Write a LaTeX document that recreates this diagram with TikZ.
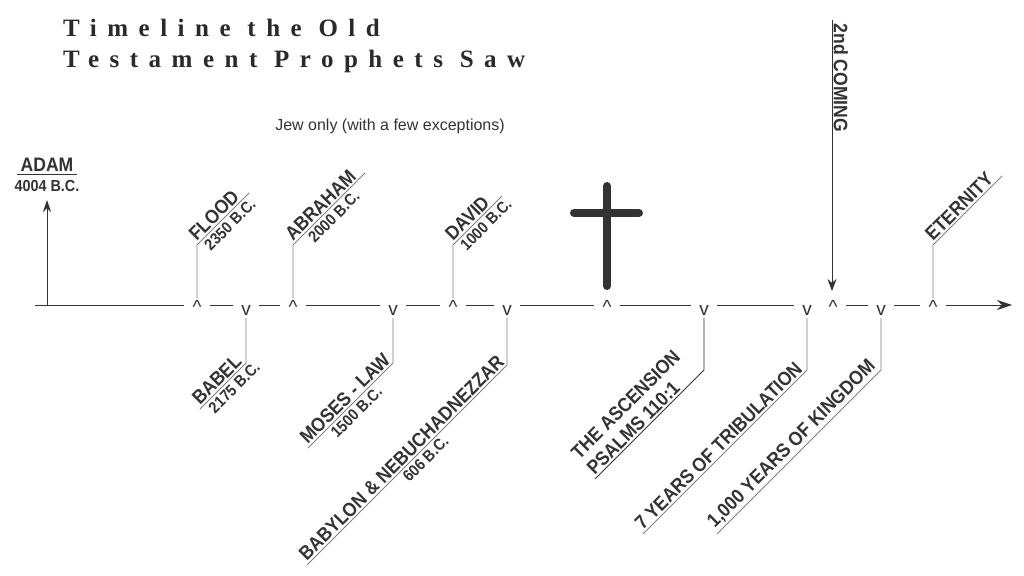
\documentclass[tikz,border=0pt]{standalone}
\usepackage{fontspec}
\setmainfont{Liberation Sans}
\newfontfamily\titlefont[LetterSpace=42]{Liberation Serif}
\newfontfamily\narrowfont[FakeStretch=0.9]{Liberation Sans}
\usetikzlibrary{arrows.meta}
\definecolor{ink}{HTML}{333333}
\definecolor{titleink}{HTML}{2A2A2A}
\begin{document}
\begin{tikzpicture}[x=1pt,y=-1pt,
  lbl/.style={font=\narrowfont\bfseries\fontsize{19.5}{22}\selectfont, text=ink, inner sep=2pt},
  dt/.style={font=\narrowfont\bfseries\fontsize{16}{18}\selectfont, text=ink, inner sep=3pt},
  mkup/.style={font=\fontsize{19}{20}\selectfont, fill=white, inner sep=0pt, minimum width=26pt, text height=15pt, text depth=1pt, anchor=base, text=ink},
  mkdn/.style={font=\fontsize{19}{20}\selectfont, fill=white, inner sep=0pt, minimum width=26pt, text height=12pt, text depth=3pt, anchor=base, text=ink},
  leader/.style={draw=black!50, line width=0.8pt},
  darkleader/.style={draw=ink, line width=0.9pt},
  axis/.style={draw=ink, line width=1pt},
  crossbar/.style={draw=ink, line width=8pt, line cap=round},
]
\fill[white] (0,0) rectangle (1024,575);
\useasboundingbox (0,0) rectangle (1024,575);

% title
\node[font=\titlefont\bfseries\fontsize{25}{27}\selectfont, text=titleink, anchor=base west, inner sep=0pt] (title1) at (63,37) {Timeline the Old};
\node[font=\titlefont\bfseries\fontsize{25}{27}\selectfont, text=titleink, anchor=base west, inner sep=0pt] (title2) at (63,68) {Testament Prophets Saw};

\node[font=\fontsize{16}{18}\selectfont, text=ink, anchor=base] (jew) at (390,130) {Jew only (with a few exceptions)};

% timeline
\coordinate (t0) at (35,305);
\coordinate (t1) at (1012,305);
\draw[axis, -{Stealth[length=15pt,width=10pt]}] (t0) -- (t1);

% markers
\node[mkup] (m1) at (197,313) {\textasciicircum};
\node[mkdn] (m2) at (246,315) {v};
\node[mkup] (m3) at (293,313) {\textasciicircum};
\node[mkdn] (m4) at (393,315) {v};
\node[mkup] (m5) at (453,313) {\textasciicircum};
\node[mkdn] (m6) at (507,315) {v};
\node[mkup] (m7) at (607,313) {\textasciicircum};
\node[mkdn] (m8) at (704,315) {v};
\node[mkdn] (m9) at (807,315) {v};
\node[mkup] (m10) at (833,313) {\textasciicircum};
\node[mkdn] (m11) at (881,315) {v};
\node[mkup] (m12) at (933,313) {\textasciicircum};

% ADAM
\coordinate (a0) at (47,305);
\coordinate (a1) at (47,200);
\draw[axis, -{Stealth[length=12pt,width=8pt]}] (a0) -- (a1);
\node[lbl, anchor=base, inner sep=0pt] (adam) at (47,171) {ADAM};
\draw[draw=ink, line width=1.3pt] (17,174.5) -- (77,174.5);
\node[dt, anchor=base, inner sep=0pt] (adamd) at (47,191) {4004 B.C.};

% 2nd coming
\coordinate (sc0) at (832,20);
\coordinate (sc1) at (832,291);
\draw[axis, -{Stealth[length=12pt,width=9pt]}] (sc0) -- (sc1);
\node[lbl, rotate=-90, anchor=south west, inner sep=1.5pt] (second) at (832,22) {2nd COMING};

% cross
\draw[crossbar] (607,186) -- (607,286);
\draw[crossbar] (574,213) -- (639,213);

% upper labels
\coordinate (c1) at (197,245); \coordinate (e1) at (249,193);
\draw[leader] (m1.north) -- (c1) -- (e1);
\path (c1) -- (e1) node[lbl, sloped, pos=0, anchor=south west] (flood) {FLOOD}
                   node[dt, sloped, pos=0.03, anchor=north west] (floodd) {2350 B.C.};

\coordinate (c3) at (293,245); \coordinate (e3) at (365,173);
\draw[leader] (m3.north) -- (c3) -- (e3);
\path (c3) -- (e3) node[lbl, sloped, pos=0, anchor=south west] (abraham) {ABRAHAM}
                   node[dt, sloped, pos=0.13, anchor=north west] (abrahamd) {2000 B.C.};

\coordinate (c5) at (453,245); \coordinate (e5) at (502,196);
\draw[leader] (m5.north) -- (c5) -- (e5);
\path (c5) -- (e5) node[lbl, sloped, pos=0, anchor=south west] (david) {DAVID}
                   node[dt, sloped, pos=0.03, anchor=north west] (davidd) {1000 B.C.};

\coordinate (c12) at (933,245); \coordinate (e12) at (1002,176);
\draw[leader] (m12.north) -- (c12) -- (e12);
\path (c12) -- (e12) node[lbl, sloped, pos=0, anchor=south west] (eternity) {ETERNITY};

% lower labels
\coordinate (c2) at (246,363); \coordinate (e2) at (200,409);
\draw[leader] (m2.south) -- (c2) -- (e2);
\path (e2) -- (c2) node[lbl, sloped, pos=0, anchor=south west] (babel) {BABEL}
                   node[dt, sloped, pos=0.06, anchor=north west] (babeld) {2175 B.C.};

\coordinate (c4) at (393,363); \coordinate (e4) at (308,448);
\draw[leader] (m4.south) -- (c4) -- (e4);
\path (e4) -- (c4) node[lbl, sloped, pos=0, anchor=south west] (moses) {MOSES - LAW}
                   node[dt, sloped, pos=0.2, anchor=north west] (mosesd) {1500 B.C.};

\coordinate (c6) at (507,365); \coordinate (e6) at (307,565);
\draw[leader] (m6.south) -- (c6) -- (e6);
\path (e6) -- (c6) node[lbl, sloped, pos=0, anchor=south west] (babylon) {BABYLON \& NEBUCHADNEZZAR}
                   node[dt, sloped, pos=0.45, anchor=north west] (babylond) {606 B.C.};

\coordinate (c8) at (704,370); \coordinate (e8) at (595,479);
\draw[darkleader] (m8.south) -- (c8) -- (e8);
\path (e8) -- (c8) node[lbl, sloped, pos=0, anchor=south west, align=left] (ascension) {THE ASCENSION\\PSALMS 110:1};

\coordinate (c9) at (807,370); \coordinate (e9) at (643,534);
\draw[leader] (m9.south) -- (c9) -- (e9);
\path (e9) -- (c9) node[lbl, sloped, pos=0, anchor=south west] (trib) {7 YEARS OF TRIBULATION};

\coordinate (c11) at (881,370); \coordinate (e11) at (717,534);
\draw[leader] (m11.south) -- (c11) -- (e11);
\path (e11) -- (c11) node[lbl, sloped, pos=0, anchor=south west] (kingdom) {1,000 YEARS OF KINGDOM};
\end{tikzpicture}
\end{document}
